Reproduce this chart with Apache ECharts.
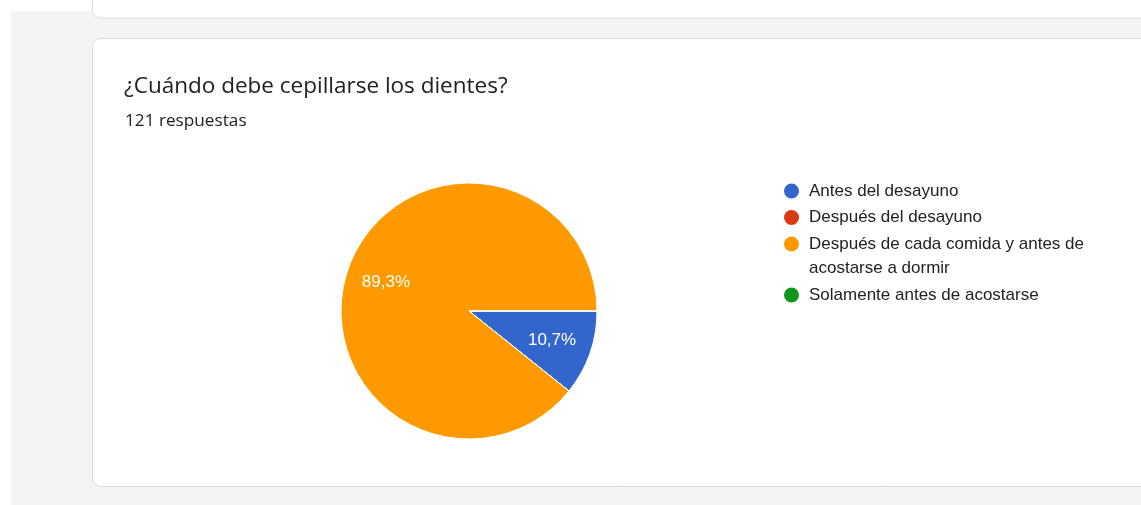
<!DOCTYPE html>
<html>
<head>
<meta charset="utf-8">
<script src="https://cdn.jsdelivr.net/npm/echarts@6/dist/echarts.min.js"></script>
<style>
  html, body { margin: 0; padding: 0; background: #ffffff; }
  #chart { width: 1141px; height: 505px; }
</style>
</head>
<body>
<div id="chart"></div>
<script>
// Survey question and answer breakdown
const questionTitle = '¿Cuándo debe cepillarse los dientes?';
const responseCount = 121;
const categories = [
  'Antes del desayuno',
  'Después del desayuno',
  'Después de cada comida y antes de acostarse a dormir',
  'Solamente antes de acostarse'
];
const responses = [13, 0, 108, 0];
const sliceColors = ['#3366cc', '#dc3912', '#ff9900', '#109618'];

// The long answer is shown over two lines in the legend
const wrappedName = categories[2];
const wrappedFirstLine = 'Después de cada comida y antes de';
const wrappedSecondLine = 'acostarse a dormir';

const HEAD_FONT = '"Open Sans", Roboto, sans-serif';
const CHART_FONT = '"Liberation Sans", Arial, sans-serif';

const pieData = categories.map((name, i) => ({
  name: name,
  value: responses[i],
  itemStyle: { color: sliceColors[i] }
}));

const chart = echarts.init(document.getElementById('chart'), null, { renderer: 'canvas' });

const legendText = {
  fontFamily: CHART_FONT,
  fontSize: 17,
  color: '#222222',
  lineHeight: 24,
  padding: [0, 0, 0, 5]
};

function legendAt(top, names) {
  return {
    orient: 'vertical',
    left: 784,
    top: top,
    padding: 0,
    icon: 'circle',
    itemWidth: 15,
    itemHeight: 15,
    itemGap: 2.5,
    selectedMode: false,
    itemStyle: { borderWidth: 0 },
    data: names,
    formatter: name => (name === wrappedName ? wrappedFirstLine : name),
    textStyle: legendText
  };
}

chart.setOption({
  backgroundColor: '#ffffff',
  animation: false,
  graphic: [
    // page background
    { type: 'rect', z: -10, silent: true,
      shape: { x: 11, y: 11, width: 1140, height: 500 },
      style: { fill: '#f4f4f4' } },
    // previous card (bottom edge only)
    { type: 'rect', z: -9, silent: true,
      shape: { x: 92.5, y: -30, width: 1100, height: 48, r: 8 },
      style: { fill: '#ffffff', stroke: '#dadce0', lineWidth: 1 } },
    // question card
    { type: 'rect', z: -9, silent: true,
      shape: { x: 92.5, y: 38.5, width: 1100, height: 448, r: 8 },
      style: { fill: '#ffffff', stroke: '#dadce0', lineWidth: 1 } },
    { type: 'text', silent: true, x: 124, y: 86.5,
      style: { text: questionTitle, fontFamily: HEAD_FONT, fontSize: 22.5,
               fill: '#202124', verticalAlign: 'middle' } },
    { type: 'text', silent: true, x: 125, y: 121,
      style: { text: responseCount + ' respuestas', fontFamily: HEAD_FONT, fontSize: 17.2,
               fill: '#202124', verticalAlign: 'middle' } },
    // continuation line of the wrapped legend entry
    { type: 'text', silent: true, x: 809, y: 268,
      style: { text: wrappedSecondLine, fontFamily: CHART_FONT, fontSize: 17,
               fill: '#222222', verticalAlign: 'middle' } }
  ],
  legend: [
    legendAt(179, [categories[0], categories[1], categories[2]]),
    legendAt(283, [categories[3]])
  ],
  series: [
    {
      type: 'pie',
      center: [469, 311],
      radius: 128,
      startAngle: 0,
      clockwise: true,
      data: pieData,
      label: { show: false },
      labelLine: { show: false },
      itemStyle: { borderColor: '#ffffff', borderWidth: 1 },
      emphasis: { disabled: true }
    },
    {
      // carries the percentage labels at two-thirds of the radius
      type: 'pie',
      center: [469, 311],
      radius: 170,
      startAngle: 0,
      clockwise: true,
      silent: true,
      percentPrecision: 1,
      data: pieData.map(d => ({ name: d.name, value: d.value })),
      itemStyle: { color: 'rgba(0,0,0,0)' },
      labelLine: { show: false },
      label: {
        show: true,
        position: 'inside',
        fontFamily: CHART_FONT,
        fontSize: 17,
        color: '#ffffff',
        formatter: p => p.value > 0 ? p.percent.toFixed(1).replace('.', ',') + '%' : ''
      },
      emphasis: { disabled: true }
    }
  ]
});
</script>
</body>
</html>
